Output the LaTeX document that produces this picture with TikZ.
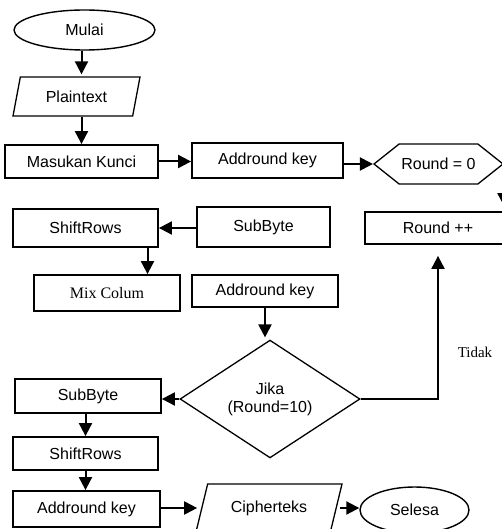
\documentclass[tikz,border=0pt]{standalone}
\usepackage{fontspec}
\setmainfont{Liberation Sans}
\newfontfamily\timesfont{Liberation Serif}
\usetikzlibrary{shapes.geometric,shapes.symbols,arrows.meta}

\tikzset{
  box/.style={draw, line width=1.8pt, rectangle, inner sep=0pt},
  oval/.style={draw, line width=1.4pt, ellipse, inner sep=0pt},
  io/.style={draw, line width=1.3pt, trapezium, trapezium stretches body=true, inner sep=0pt},
  arr/.style={line width=2pt, -{Triangle[length=13pt,width=13pt]}}
}

\begin{document}
\begin{tikzpicture}[x=1pt, y=-1pt, font=\fontsize{16}{18}\selectfont]
\useasboundingbox (0,0) rectangle (502,529);
\clip (0,0) rectangle (502,529);

% start and input
\node[oval, minimum width=141pt, minimum height=40pt] (mulai) at (84.5,30) {Mulai};
\node[io, trapezium left angle=58, trapezium right angle=122, minimum width=127pt, minimum height=39pt] (plain) at (76.5,96.5) {Plaintext};
\node[box, minimum width=153pt, minimum height=33pt] (kunci) at (81.5,161.5) {Masukan Kunci};
\node[box, minimum width=151pt, minimum height=35pt] (addkeya) at (267.5,160.5) {Addround key};
\node[draw, line width=1.3pt, signal, signal to=east and west, signal pointer angle=77, minimum width=129pt, minimum height=40pt, inner sep=0pt] (roundnol) at (438.5,164) {Round = 0};
\node[box, minimum width=146pt, minimum height=32pt] (roundpp) at (438,228) {Round ++};

% round
\node[box, minimum width=133pt, minimum height=40pt] (subbytea) at (263.5,227) {SubByte};
\node[box, minimum width=145pt, minimum height=38pt] (shifta) at (85.5,228) {ShiftRows};
\node[box, minimum width=146pt, minimum height=36pt, font=\timesfont\fontsize{16}{18}\selectfont] (mix) at (107,293) {Mix Colum};
\node[box, minimum width=146pt, minimum height=32pt] (addkeyb) at (265,291) {Addround key};
\node[draw, line width=1.3pt, diamond, minimum width=180pt, minimum height=108pt, inner sep=0pt, align=center] (jika) at (270,399) {Jika\\(Round=10)};
\node[font=\timesfont\fontsize{15}{17}\selectfont] (tidak) at (475,352) {Tidak};

% final round
\node[box, minimum width=146pt, minimum height=34pt] (subbyteb) at (88,396) {SubByte};
\node[box, minimum width=145pt, minimum height=33pt] (shiftb) at (85.5,453.5) {ShiftRows};
\node[box, minimum width=147pt, minimum height=36pt] (addkeyc) at (86.5,509) {Addround key};
\node[io, trapezium left angle=52, trapezium right angle=128, minimum width=146pt, minimum height=48pt] (cipher) at (269,508) {Cipherteks};
\node[oval, minimum width=109pt, minimum height=46pt] (selesa) at (414.5,510) {Selesa};

\coordinate (belok) at (504,164);

\draw[arr, shorten >=2pt] (kunci.north |- mulai.south) -- (kunci.north |- plain.north);
\draw[arr] (kunci.north |- plain.south) -- (kunci.north);
\draw[arr] (kunci.east) -- (kunci.east -| addkeya.west);
\draw[arr] (addkeya.east |- roundnol.west) -- (roundnol.west);
\draw[arr, shorten >=5pt] (roundnol.east) -- (belok) -- (belok |- roundpp.north);
\draw[arr] (subbytea.west |- shifta.east) -- (shifta.east);
\draw[arr] ([xshift=62pt]shifta.south) -- ([xshift=62pt]shifta.south |- mix.north);
\draw[arr, shorten >=2pt] (addkeyb.south) -- (addkeyb.south |- jika.north);
\draw[arr] (jika.west) -- (jika.west -| subbyteb.east);
\draw[arr, shorten >=11pt] (jika.east) -- (roundpp.south |- jika.east) -- (roundpp.south);
\draw[arr] (shiftb.north |- subbyteb.south) -- (shiftb.north);
\draw[arr] (shiftb.south) -- (shiftb.south |- addkeyc.north);
\draw[arr, shorten >=4pt] (addkeyc.east |- cipher.west) -- (cipher.west);
\draw[arr, shorten <=3pt] (cipher.east) -- (cipher.east -| selesa.west);
\end{tikzpicture}
\end{document}
